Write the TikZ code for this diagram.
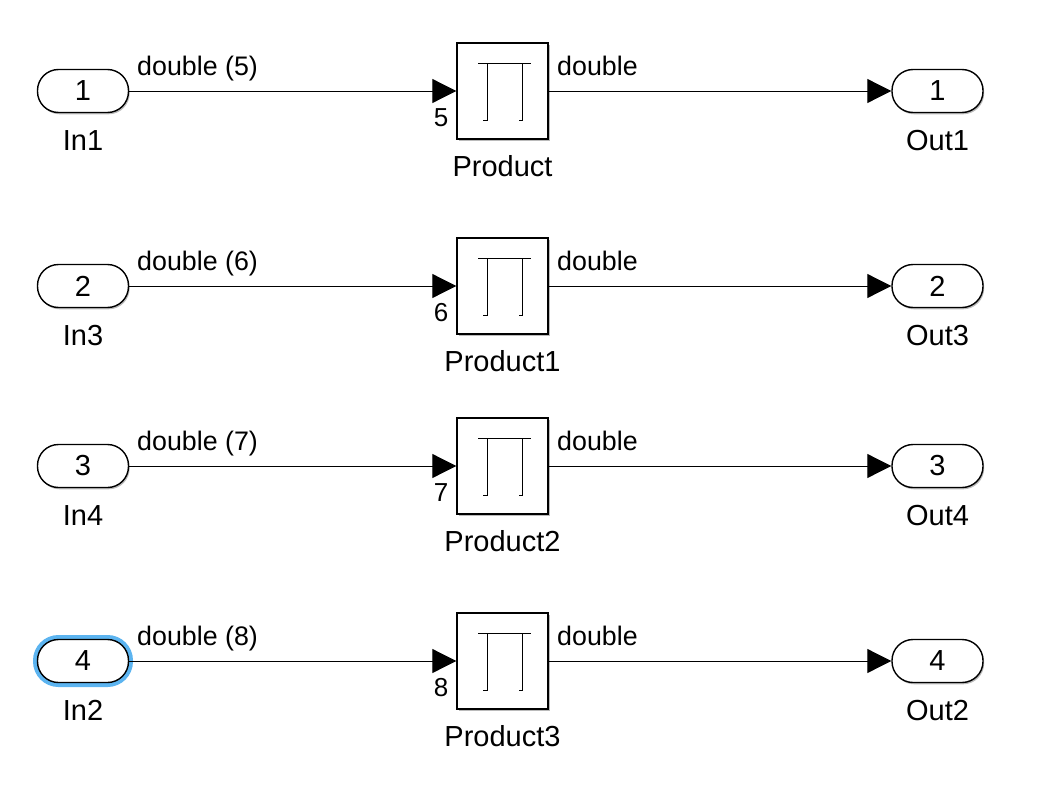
\documentclass[tikz,border=0pt]{standalone}
\usepackage{xcolor}
\usepackage{fontspec}
\setmainfont{Liberation Sans}
\usepackage{tikz}
\usetikzlibrary{positioning,arrows.meta,shadows}
\definecolor{hilite}{RGB}{92,180,240}

\begin{document}
\begin{tikzpicture}[x=1pt,y=-1pt,on grid,>={Triangle[length=24pt,width=24pt]}]
        \tikzstyle{port}=[draw,line width=1.4pt,fill=white,rounded corners=21pt,minimum width=91pt,minimum height=43pt,inner sep=0pt,
          drop shadow={shadow xshift=1.2pt,shadow yshift=-1.8pt,fill=black!45,opacity=.6},font=\fontsize{29}{34}\selectfont]
        \tikzstyle{prod}=[draw,line width=1.4pt,fill=white,minimum width=91pt,minimum height=96pt,inner sep=0pt,
          drop shadow={shadow xshift=1.5pt,shadow yshift=-1.8pt,fill=black!45,opacity=.6},
          path picture={
            \draw[line width=0.9pt] ([shift={(-24.5,-28)}]path picture bounding box.center) -- ++(53,0);
            \draw[line width=0.9pt] ([shift={(-19.5,29)}]path picture bounding box.center) -- ++(4,0) -- ++(0,-57);
            \draw[line width=0.9pt] ([shift={(16.5,29)}]path picture bounding box.center) -- ++(3,0) -- ++(0,-57);
          }]
        \tikzstyle{lbl}=[inner sep=0pt,font=\fontsize{29}{34}\selectfont]
        \tikzstyle{sig}=[pos=0,anchor=base west,inner sep=0pt,yshift=16pt,font=\fontsize{26.8}{32}\selectfont]
        \tikzstyle{pnum}=[inner sep=0pt,font=\fontsize{26}{31}\selectfont]
        \useasboundingbox (0,0) rectangle (1060,792);

        % row 1
        \node[port] (In1) at (83,91) {1};
        \node[prod] (P1) [right=419.5pt of In1] {};
        \node[port] (Out1) [right=435pt of P1] {1};
        % row 2
        \node[port] (In3) [below=195pt of In1] {2};
        \node[prod] (P2) [right=419.5pt of In3] {};
        \node[port] (Out3) [right=435pt of P2] {2};
        % row 3
        \node[port] (In4) [below=180pt of In3] {3};
        \node[prod] (P3) [right=419.5pt of In4] {};
        \node[port] (Out4) [right=435pt of P3] {3};
        % row 4
        \node[port,preaction={draw=hilite,line width=9pt}] (In2) [below=195pt of In4] {4};
        \node[prod] (P4) [right=419.5pt of In2] {};
        \node[port] (Out2) [right=435pt of P4] {4};

        \node[lbl] (In1l) [below=49.5pt of In1] {In1};
        \node[lbl] (In3l) [below=49.5pt of In3] {In3};
        \node[lbl] (In4l) [below=49.5pt of In4] {In4};
        \node[lbl] (In2l) [below=49.5pt of In2] {In2};
        \node[lbl] (Out1l) [below=50pt of Out1] {Out1};
        \node[lbl] (Out3l) [below=50pt of Out3] {Out3};
        \node[lbl] (Out4l) [below=50pt of Out4] {Out4};
        \node[lbl] (Out2l) [below=50pt of Out2] {Out2};
        \node[lbl] (P1l) [below=75.5pt of P1] {Product};
        \node[lbl] (P2l) [below=75.5pt of P2] {Product1};
        \node[lbl] (P3l) [below=75.5pt of P3] {Product2};
        \node[lbl] (P4l) [below=75.5pt of P4] {Product3};

        \node[pnum] (P1n) [below left=26.7pt and 61.5pt of P1] {5};
        \node[pnum] (P2n) [below left=26.7pt and 61.5pt of P2] {6};
        \node[pnum] (P3n) [below left=26.7pt and 61.5pt of P3] {7};
        \node[pnum] (P4n) [below left=26.7pt and 61.5pt of P4] {8};

        \path[->,line width=1pt]
        (In1) edge node[sig,xshift=7.5pt] {double (5)} (P1)
        (P1) edge node[sig,xshift=8pt] {double} (Out1)
        (In3) edge node[sig,xshift=7.5pt] {double (6)} (P2)
        (P2) edge node[sig,xshift=8pt] {double} (Out3)
        (In4) edge node[sig,xshift=7.5pt] {double (7)} (P3)
        (P3) edge node[sig,xshift=8pt] {double} (Out4)
        (In2) edge node[sig,xshift=7.5pt] {double (8)} (P4)
        (P4) edge node[sig,xshift=8pt] {double} (Out2);
    \end{tikzpicture}
\end{document}
